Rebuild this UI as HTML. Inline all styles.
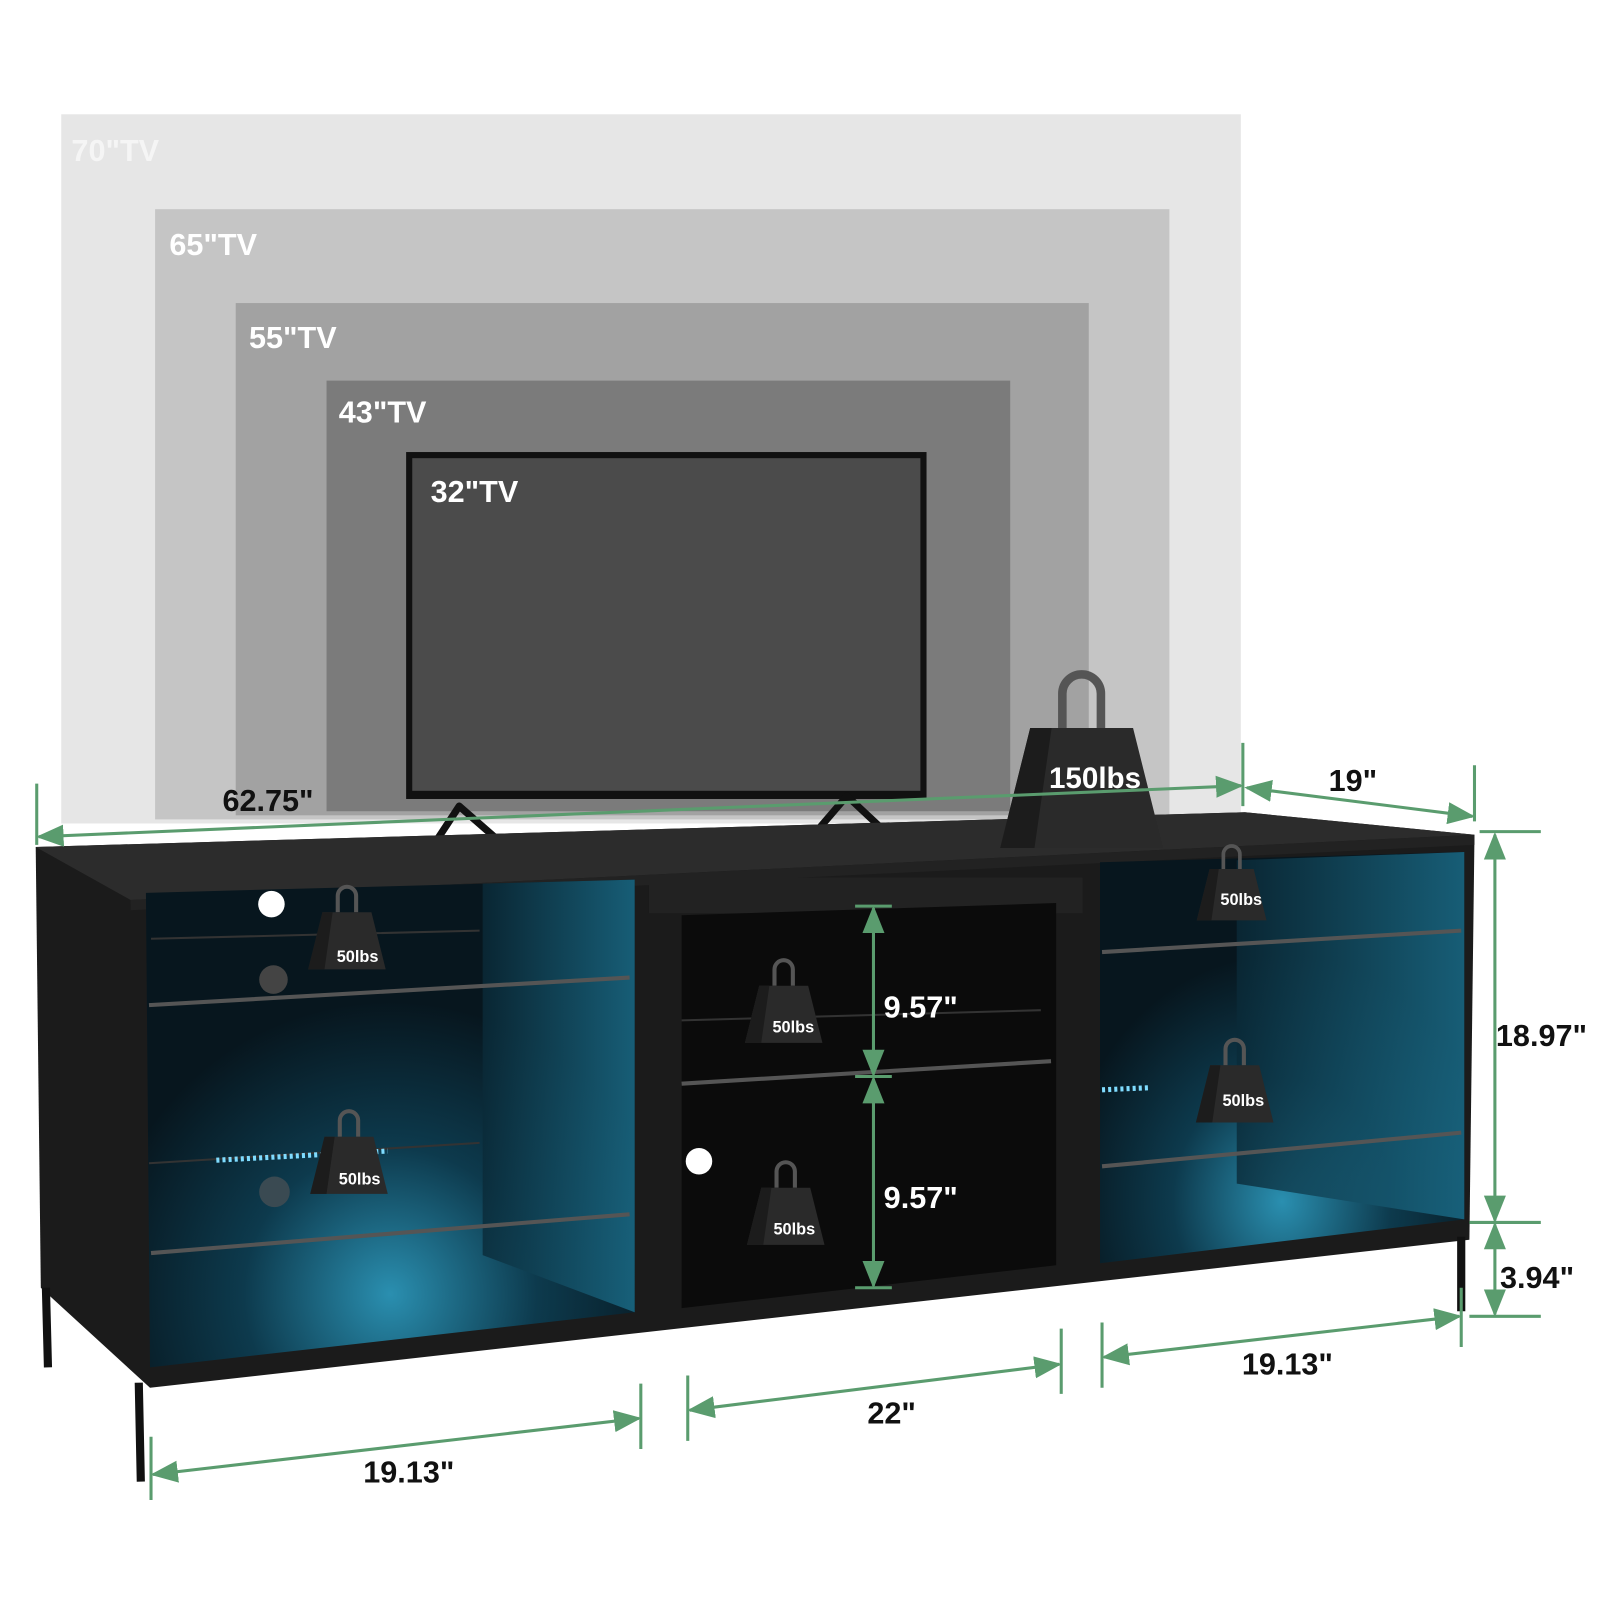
<!DOCTYPE html>
<html><head><meta charset="utf-8"><style>
html,body{margin:0;padding:0;background:#fff;}
svg{display:block}
text{font-family:"Liberation Sans",Arial,sans-serif;font-weight:bold}
</style></head><body>
<svg width="1600" height="1600" viewBox="0 0 1568 1568" xmlns="http://www.w3.org/2000/svg">
<defs>
<radialGradient id="glow" cx="0.5" cy="0.85" r="0.6">
<stop offset="0" stop-color="#2a8fb0"/><stop offset="0.5" stop-color="#0d3a4d"/><stop offset="1" stop-color="#07161e"/>
</radialGradient>
<linearGradient id="side" x1="0" x2="1"><stop offset="0" stop-color="#0a2a38"/><stop offset="1" stop-color="#1b6f8c"/></linearGradient>
<g id="w">
<path d="M-9,-26 v-16 a9,9 0 0 1 18,0 v16" fill="none" stroke="#555" stroke-width="4"/>
<path d="M-24,-26 L24,-26 L38,30 L-38,30 Z" fill="#2a2a2a"/>
<path d="M-24,-26 L-14,-26 L-22,30 L-38,30 Z" fill="#1c1c1c"/>
</g>
<marker id="a" viewBox="0 0 10 10" refX="9" refY="5" markerWidth="9" markerHeight="9" orient="auto-start-reverse"><path d="M0,1 L10,5 L0,9 Z" fill="#5a9c6e"/></marker>
</defs>
<rect x="60" y="112" width="1156" height="695" fill="#e6e6e6"/>
<rect x="152" y="205" width="994" height="598" fill="#c5c5c5"/>
<rect x="231" y="297" width="836" height="502" fill="#a2a2a2"/>
<rect x="320" y="373" width="670" height="422" fill="#7b7b7b"/>
<g fill="#fff" font-size="30">
<text x="70" y="158" fill="#f5f5f5">70"TV</text>
<text x="166" y="250">65"TV</text>
<text x="244" y="341">55"TV</text>
<text x="332" y="414">43"TV</text>
</g>
<rect x="398" y="443" width="510" height="340" fill="#111"/>
<rect x="404" y="449" width="498" height="326" fill="#4b4b4b"/>
<text x="422" y="492" fill="#fff" font-size="30">32"TV</text>
<path d="M450,790 L425,828 M450,790 L505,838 M830,780 L800,815 M830,780 L878,825" stroke="#111" stroke-width="7" stroke-linecap="round"/>
<path d="M35,830 L1220,796 L1445,818 L1440,1215 L147,1360 L40,1262 Z" fill="#1b1b1b"/>
<path d="M35,830 L1220,796 L1445,818 L128,882 Z" fill="#2c2c2c"/>
<path d="M128,882 L1445,818 L1445,828 L128,892 Z" fill="#222"/>
<path d="M143,875 L622,862 L622,1286 L147,1340 Z" fill="url(#glow)"/>
<path d="M473,866 L622,862 L622,1286 L473,1230 Z" fill="url(#side)" opacity="0.8"/>
<path d="M146,985 L617,958 M148,1228 L617,1190" stroke="#555" stroke-width="4"/>
<path d="M148,920 L470,912 M146,1140 L470,1120" stroke="#333" stroke-width="2"/>
<circle cx="266" cy="886" r="13" fill="#fff"/>
<circle cx="268" cy="960" r="14" fill="#444"/>
<circle cx="269" cy="1168" r="15" fill="#3a4a52"/>
<path d="M212,1137 L380,1128" stroke="#7fdcff" stroke-width="5" stroke-dasharray="3,3"/>
<rect x="636" y="860" width="425" height="35" fill="#222"/>
<path d="M668,897 L1035,885 L1035,1240 L668,1282 Z" fill="#0b0b0b"/>
<path d="M668,1062 L1030,1040" stroke="#555" stroke-width="4"/>
<path d="M668,1000 L1020,990" stroke="#333" stroke-width="2"/>
<circle cx="685" cy="1138" r="13" fill="#fff"/>
<path d="M1078,845 L1435,835 L1435,1195 L1078,1238 Z" fill="url(#glow)"/>
<path d="M1212,843 L1435,835 L1435,1195 L1212,1160 Z" fill="url(#side)" opacity="0.8"/>
<path d="M1080,933 L1432,912 M1080,1143 L1432,1110" stroke="#555" stroke-width="4"/>
<path d="M1080,1068 L1126,1066" stroke="#7fdcff" stroke-width="5" stroke-dasharray="3,3"/>
<path d="M45,1262 L47,1340 M136,1355 L138,1452 M1432,1212 L1432,1285" stroke="#111" stroke-width="8"/>
<g transform="translate(1060,768) scale(2.1)"><use href="#w"/></g>
<text x="1028" y="772" fill="#fff" font-size="29">150lbs</text>
<g transform="translate(340,920)"><use href="#w"/></g><text x="330" y="943" fill="#fff" font-size="16">50lbs</text>
<g transform="translate(342,1140)"><use href="#w"/></g><text x="332" y="1161" fill="#fff" font-size="16">50lbs</text>
<g transform="translate(768,992)"><use href="#w"/></g><text x="757" y="1012" fill="#fff" font-size="16">50lbs</text>
<g transform="translate(770,1190)"><use href="#w"/></g><text x="758" y="1210" fill="#fff" font-size="16">50lbs</text>
<g transform="translate(1207,875) scale(0.9)"><use href="#w"/></g><text x="1196" y="887" fill="#fff" font-size="16">50lbs</text>
<g transform="translate(1210,1070)"><use href="#w"/></g><text x="1198" y="1084" fill="#fff" font-size="16">50lbs</text>
<g stroke="#5a9c6e" stroke-width="3" fill="none">
<path d="M36,768 V828 M1218,728 V790 M1445,750 V805"/>
<path d="M38,820 L1216,770" marker-start="url(#a)" marker-end="url(#a)"/>
<path d="M1222,772 L1443,800" marker-start="url(#a)" marker-end="url(#a)"/>
<path d="M1450,815 H1510 M1440,1198 H1510 M1440,1290 H1510"/>
<path d="M1465,818 V1196" marker-start="url(#a)" marker-end="url(#a)"/>
<path d="M1465,1200 V1288" marker-start="url(#a)" marker-end="url(#a)"/>
<path d="M838,888 H874 M838,1055 H874 M838,1262 H874"/>
<path d="M856,890 V1053" marker-start="url(#a)" marker-end="url(#a)"/>
<path d="M856,1057 V1260" marker-start="url(#a)" marker-end="url(#a)"/>
<path d="M148,1408 V1470 M628,1356 V1420 M674,1348 V1412 M1040,1302 V1366 M1080,1296 V1360 M1432,1262 V1320"/>
<path d="M150,1445 L626,1390" marker-start="url(#a)" marker-end="url(#a)"/>
<path d="M676,1382 L1038,1337" marker-start="url(#a)" marker-end="url(#a)"/>
<path d="M1082,1330 L1430,1290" marker-start="url(#a)" marker-end="url(#a)"/>
</g>
<g fill="#111" font-size="30">
<text x="218" y="795">62.75"</text>
<text x="1302" y="775">19"</text>
<text x="1466" y="1025">18.97"</text>
<text x="1470" y="1262">3.94"</text>
<text x="866" y="997" fill="#fff">9.57"</text>
<text x="866" y="1184" fill="#fff">9.57"</text>
<text x="356" y="1453">19.13"</text>
<text x="850" y="1395">22"</text>
<text x="1217" y="1347">19.13"</text>
</g>
</svg>
</body></html>
